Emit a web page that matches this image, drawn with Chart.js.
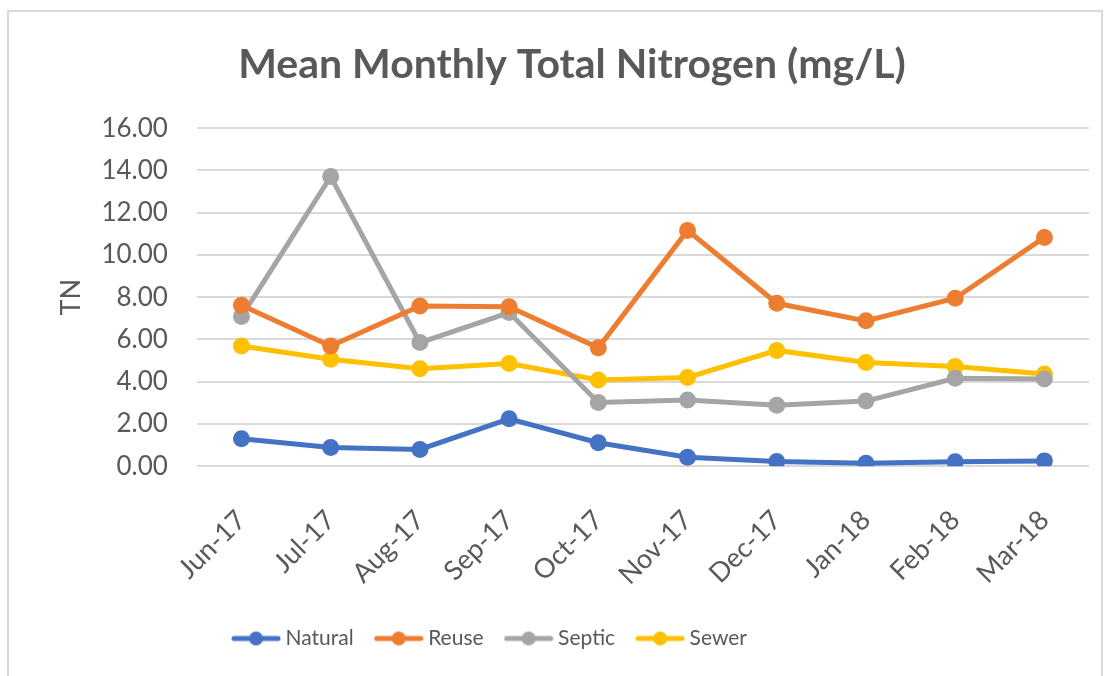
<!DOCTYPE html>
<html>
<head>
<meta charset="utf-8">
<script src="https://cdn.jsdelivr.net/npm/chart.js@4/dist/chart.umd.min.js"></script>
<style>
  html, body { margin: 0; padding: 0; background: #fff; }
  #wrap { position: relative; width: 1112px; height: 676px; }
  #frame {
    position: absolute; left: 7px; top: 10px; width: 1096px; height: 680px;
    border: 2px solid #d9d9d9; box-sizing: border-box; pointer-events: none;
  }
</style>
</head>
<body>
<div id="wrap">
  <canvas id="chart" width="1112" height="676"></canvas>
  <div id="frame"></div>
</div>
<script>
// -----------------------------
// Data
// -----------------------------
const months = ["Jun-17", "Jul-17", "Aug-17", "Sep-17", "Oct-17",
                "Nov-17", "Dec-17", "Jan-18", "Feb-18", "Mar-18"];

const natural = [1.30, 0.88, 0.79, 2.24, 1.11, 0.42, 0.22, 0.14, 0.21, 0.25];
const reuse   = [7.62, 5.69, 7.58, 7.55, 5.60, 11.16, 7.71, 6.88, 7.95, 10.83];
const septic  = [7.08, 13.71, 5.85, 7.27, 3.01, 3.13, 2.88, 3.08, 4.16, 4.13];
const sewer   = [5.69, 5.06, 4.61, 4.86, 4.08, 4.20, 5.48, 4.91, 4.72, 4.36];

const yTicks = [0, 2, 4, 6, 8, 10, 12, 14, 16];

const textColor = "#595959";
const fontFamily = "Lato, 'Open Sans', sans-serif";

// legend marker: short line with a dot in the middle
function legendMarker(color) {
    const c = document.createElement("canvas");
    c.width = 50;
    c.height = 18;
    const g = c.getContext("2d");
    g.strokeStyle = color;
    g.lineWidth = 5;
    g.lineCap = "round";
    g.beginPath();
    g.moveTo(3, 9);
    g.lineTo(47, 9);
    g.stroke();
    g.fillStyle = color;
    g.beginPath();
    g.arc(25, 9, 7, 0, Math.PI * 2);
    g.fill();
    return c;
}

function series(label, data, color) {
    return {
        label: label,
        data: data,
        borderColor: color,
        backgroundColor: color,
        borderWidth: 5,
        pointRadius: 8.5,
        pointHoverRadius: 8.5,
        pointBorderWidth: 0,
        pointStyle: "circle",
        tension: 0,
        fill: false,
        marker: legendMarker(color)
    };
}

// the legend sits left of centre in the original, move it over
const legendShift = {
    id: "legendShift",
    afterLayout(chart) {
        chart.legend.right -= 160;
    }
};

new Chart(document.getElementById("chart"), {
    type: "line",
    data: {
        labels: months,
        datasets: [
            series("Natural", natural, "#4472C4"),
            series("Reuse", reuse, "#ED7D31"),
            series("Septic", septic, "#A5A5A5"),
            series("Sewer", sewer, "#FFC000")
        ]
    },
    plugins: [legendShift],
    options: {
        responsive: false,
        animation: false,
        layout: { padding: { left: 55, right: 23, top: 40, bottom: 17 } },
        plugins: {
            title: {
                display: true,
                text: "Mean Monthly Total Nitrogen (mg/L)",
                color: textColor,
                font: { family: fontFamily, size: 41, weight: "bold" },
                padding: { top: 0, bottom: 39 }
            },
            legend: {
                position: "bottom",
                labels: {
                    color: textColor,
                    font: { family: fontFamily, size: 21 },
                    usePointStyle: true,
                    pointStyleWidth: 38,
                    padding: 26,
                    generateLabels: (chart) => chart.data.datasets.map((ds, i) => ({
                        text: ds.label,
                        fontColor: textColor,
                        pointStyle: ds.marker,
                        datasetIndex: i,
                        lineWidth: 0,
                        hidden: false
                    }))
                }
            },
            tooltip: { enabled: false }
        },
        scales: {
            x: {
                offset: true,
                grid: { display: false },
                border: { display: false },
                afterFit: (axis) => {
                    // rotated labels already fit, don't push the plot inward
                    axis.paddingLeft = 0;
                    axis.paddingRight = 0;
                    // chart.js counts tick padding twice
                    axis.height -= 19;
                },
                ticks: {
                    color: textColor,
                    font: { family: fontFamily, size: 27 },
                    minRotation: 45,
                    maxRotation: 45,
                    padding: 30
                }
            },
            y: {
                min: 0,
                max: 16,
                afterBuildTicks: (axis) => {
                    axis.ticks = yTicks.map(v => ({ value: v }));
                },
                afterFit: (axis) => {
                    axis.width -= axis.options.ticks.padding;
                },
                grid: { color: "#d9d9d9", lineWidth: 2, drawTicks: false },
                border: { display: false },
                ticks: {
                    color: textColor,
                    font: { family: fontFamily, size: 26 },
                    padding: 29,
                    callback: (v) => Number(v).toFixed(2)
                },
                title: {
                    display: true,
                    text: "TN",
                    color: textColor,
                    font: { family: fontFamily, size: 27 },
                    padding: { top: 0, bottom: 14 }
                }
            }
        }
    }
});
</script>
</body>
</html>
